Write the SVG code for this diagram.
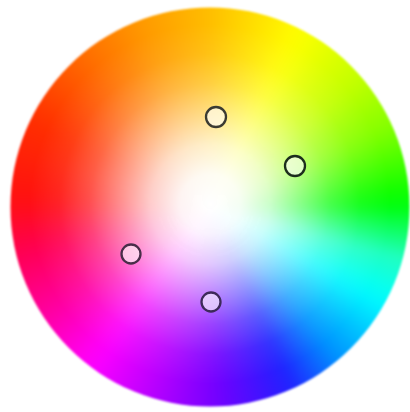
<svg xmlns="http://www.w3.org/2000/svg" xmlns:xlink="http://www.w3.org/1999/xlink" width="410" height="412" viewBox="0 0 410 412">
<defs>
<path id="w" d="M0,0 L211.76,-10 A212,212 0 0 1 211.76,10 Z"/>
<filter id="soft" x="-10%" y="-10%" width="120%" height="120%" color-interpolation-filters="sRGB"><feGaussianBlur stdDeviation="5"/></filter>
<filter id="edge" x="-5%" y="-5%" width="110%" height="110%" color-interpolation-filters="sRGB"><feGaussianBlur stdDeviation="0.9"/></filter>
<filter id="mk" x="-50%" y="-50%" width="200%" height="200%"><feGaussianBlur stdDeviation="0.5"/></filter>
<clipPath id="disc"><circle cx="210" cy="207" r="199.5"/></clipPath>
<radialGradient id="white" cx="210" cy="204" r="200" gradientUnits="userSpaceOnUse">
<stop offset="0" stop-color="#fff" stop-opacity="1"/>
<stop offset="0.15" stop-color="#fff" stop-opacity="0.95"/>
<stop offset="0.3" stop-color="#fff" stop-opacity="0.78"/>
<stop offset="0.45" stop-color="#fff" stop-opacity="0.52"/>
<stop offset="0.6" stop-color="#fff" stop-opacity="0.26"/>
<stop offset="0.75" stop-color="#fff" stop-opacity="0.08"/>
<stop offset="0.9" stop-color="#fff" stop-opacity="0"/>
</radialGradient>
<linearGradient id="b" gradientUnits="userSpaceOnUse" x1="0" y1="-8" x2="0" y2="8"/>
<linearGradient id="g0" href="#b"><stop stop-color="#00ff10"/><stop offset="1" stop-color="#0bff4b"/></linearGradient>
<linearGradient id="g1" href="#b"><stop stop-color="#0bff4b"/><stop offset="1" stop-color="#15ff85"/></linearGradient>
<linearGradient id="g2" href="#b"><stop stop-color="#15ff85"/><stop offset="1" stop-color="#20ffc0"/></linearGradient>
<linearGradient id="g3" href="#b"><stop stop-color="#20ffc0"/><stop offset="1" stop-color="#14ffd8"/></linearGradient>
<linearGradient id="g4" href="#b"><stop stop-color="#14ffd8"/><stop offset="1" stop-color="#07fff0"/></linearGradient>
<linearGradient id="g5" href="#b"><stop stop-color="#07fff0"/><stop offset="1" stop-color="#00f5ff"/></linearGradient>
<linearGradient id="g6" href="#b"><stop stop-color="#00f5ff"/><stop offset="1" stop-color="#00dcff"/></linearGradient>
<linearGradient id="g7" href="#b"><stop stop-color="#00dcff"/><stop offset="1" stop-color="#00c2ff"/></linearGradient>
<linearGradient id="g8" href="#b"><stop stop-color="#00c2ff"/><stop offset="1" stop-color="#00a9ff"/></linearGradient>
<linearGradient id="g9" href="#b"><stop stop-color="#00a9ff"/><stop offset="1" stop-color="#0090ff"/></linearGradient>
<linearGradient id="g10" href="#b"><stop stop-color="#0090ff"/><stop offset="1" stop-color="#0a6dff"/></linearGradient>
<linearGradient id="g11" href="#b"><stop stop-color="#0a6dff"/><stop offset="1" stop-color="#144aff"/></linearGradient>
<linearGradient id="g12" href="#b"><stop stop-color="#144aff"/><stop offset="1" stop-color="#1e27ff"/></linearGradient>
<linearGradient id="g13" href="#b"><stop stop-color="#1e27ff"/><stop offset="1" stop-color="#2f1aff"/></linearGradient>
<linearGradient id="g14" href="#b"><stop stop-color="#2f1aff"/><stop offset="1" stop-color="#4212ff"/></linearGradient>
<linearGradient id="g15" href="#b"><stop stop-color="#4212ff"/><stop offset="1" stop-color="#550bff"/></linearGradient>
<linearGradient id="g16" href="#b"><stop stop-color="#550bff"/><stop offset="1" stop-color="#6803ff"/></linearGradient>
<linearGradient id="g17" href="#b"><stop stop-color="#6803ff"/><stop offset="1" stop-color="#7b00ff"/></linearGradient>
<linearGradient id="g18" href="#b"><stop stop-color="#7b00ff"/><stop offset="1" stop-color="#8c00ff"/></linearGradient>
<linearGradient id="g19" href="#b"><stop stop-color="#8c00ff"/><stop offset="1" stop-color="#9e00ff"/></linearGradient>
<linearGradient id="g20" href="#b"><stop stop-color="#9e00ff"/><stop offset="1" stop-color="#b000ff"/></linearGradient>
<linearGradient id="g21" href="#b"><stop stop-color="#b000ff"/><stop offset="1" stop-color="#c200ff"/></linearGradient>
<linearGradient id="g22" href="#b"><stop stop-color="#c200ff"/><stop offset="1" stop-color="#d400ff"/></linearGradient>
<linearGradient id="g23" href="#b"><stop stop-color="#d400ff"/><stop offset="1" stop-color="#e600ff"/></linearGradient>
<linearGradient id="g24" href="#b"><stop stop-color="#e600ff"/><stop offset="1" stop-color="#f800ff"/></linearGradient>
<linearGradient id="g25" href="#b"><stop stop-color="#f800ff"/><stop offset="1" stop-color="#ff00f1"/></linearGradient>
<linearGradient id="g26" href="#b"><stop stop-color="#ff00f1"/><stop offset="1" stop-color="#ff00d9"/></linearGradient>
<linearGradient id="g27" href="#b"><stop stop-color="#ff00d9"/><stop offset="1" stop-color="#ff00c1"/></linearGradient>
<linearGradient id="g28" href="#b"><stop stop-color="#ff00c1"/><stop offset="1" stop-color="#ff00a9"/></linearGradient>
<linearGradient id="g29" href="#b"><stop stop-color="#ff00a9"/><stop offset="1" stop-color="#ff0094"/></linearGradient>
<linearGradient id="g30" href="#b"><stop stop-color="#ff0094"/><stop offset="1" stop-color="#ff0080"/></linearGradient>
<linearGradient id="g31" href="#b"><stop stop-color="#ff0080"/><stop offset="1" stop-color="#ff006c"/></linearGradient>
<linearGradient id="g32" href="#b"><stop stop-color="#ff006c"/><stop offset="1" stop-color="#ff0058"/></linearGradient>
<linearGradient id="g33" href="#b"><stop stop-color="#ff0058"/><stop offset="1" stop-color="#ff0343"/></linearGradient>
<linearGradient id="g34" href="#b"><stop stop-color="#ff0343"/><stop offset="1" stop-color="#ff092e"/></linearGradient>
<linearGradient id="g35" href="#b"><stop stop-color="#ff092e"/><stop offset="1" stop-color="#ff0e19"/></linearGradient>
<linearGradient id="g36" href="#b"><stop stop-color="#ff0e19"/><stop offset="1" stop-color="#ff140e"/></linearGradient>
<linearGradient id="g37" href="#b"><stop stop-color="#ff140e"/><stop offset="1" stop-color="#ff1a0b"/></linearGradient>
<linearGradient id="g38" href="#b"><stop stop-color="#ff1a0b"/><stop offset="1" stop-color="#ff2108"/></linearGradient>
<linearGradient id="g39" href="#b"><stop stop-color="#ff2108"/><stop offset="1" stop-color="#ff2704"/></linearGradient>
<linearGradient id="g40" href="#b"><stop stop-color="#ff2704"/><stop offset="1" stop-color="#ff2d01"/></linearGradient>
<linearGradient id="g41" href="#b"><stop stop-color="#ff2d01"/><stop offset="1" stop-color="#ff3800"/></linearGradient>
<linearGradient id="g42" href="#b"><stop stop-color="#ff3800"/><stop offset="1" stop-color="#ff4500"/></linearGradient>
<linearGradient id="g43" href="#b"><stop stop-color="#ff4500"/><stop offset="1" stop-color="#ff5200"/></linearGradient>
<linearGradient id="g44" href="#b"><stop stop-color="#ff5200"/><stop offset="1" stop-color="#ff5f00"/></linearGradient>
<linearGradient id="g45" href="#b"><stop stop-color="#ff5f00"/><stop offset="1" stop-color="#ff6c00"/></linearGradient>
<linearGradient id="g46" href="#b"><stop stop-color="#ff6c00"/><stop offset="1" stop-color="#ff7800"/></linearGradient>
<linearGradient id="g47" href="#b"><stop stop-color="#ff7800"/><stop offset="1" stop-color="#ff8300"/></linearGradient>
<linearGradient id="g48" href="#b"><stop stop-color="#ff8300"/><stop offset="1" stop-color="#ff8f00"/></linearGradient>
<linearGradient id="g49" href="#b"><stop stop-color="#ff8f00"/><stop offset="1" stop-color="#ff9a00"/></linearGradient>
<linearGradient id="g50" href="#b"><stop stop-color="#ff9a00"/><stop offset="1" stop-color="#ffa300"/></linearGradient>
<linearGradient id="g51" href="#b"><stop stop-color="#ffa300"/><stop offset="1" stop-color="#ffac00"/></linearGradient>
<linearGradient id="g52" href="#b"><stop stop-color="#ffac00"/><stop offset="1" stop-color="#ffb500"/></linearGradient>
<linearGradient id="g53" href="#b"><stop stop-color="#ffb500"/><stop offset="1" stop-color="#ffbe00"/></linearGradient>
<linearGradient id="g54" href="#b"><stop stop-color="#ffbe00"/><stop offset="1" stop-color="#ffca00"/></linearGradient>
<linearGradient id="g55" href="#b"><stop stop-color="#ffca00"/><stop offset="1" stop-color="#ffd600"/></linearGradient>
<linearGradient id="g56" href="#b"><stop stop-color="#ffd600"/><stop offset="1" stop-color="#ffe200"/></linearGradient>
<linearGradient id="g57" href="#b"><stop stop-color="#ffe200"/><stop offset="1" stop-color="#ffee00"/></linearGradient>
<linearGradient id="g58" href="#b"><stop stop-color="#ffee00"/><stop offset="1" stop-color="#fffa00"/></linearGradient>
<linearGradient id="g59" href="#b"><stop stop-color="#fffa00"/><stop offset="1" stop-color="#f7ff00"/></linearGradient>
<linearGradient id="g60" href="#b"><stop stop-color="#f7ff00"/><stop offset="1" stop-color="#e9ff00"/></linearGradient>
<linearGradient id="g61" href="#b"><stop stop-color="#e9ff00"/><stop offset="1" stop-color="#dbff00"/></linearGradient>
<linearGradient id="g62" href="#b"><stop stop-color="#dbff00"/><stop offset="1" stop-color="#ceff00"/></linearGradient>
<linearGradient id="g63" href="#b"><stop stop-color="#ceff00"/><stop offset="1" stop-color="#c0ff00"/></linearGradient>
<linearGradient id="g64" href="#b"><stop stop-color="#c0ff00"/><stop offset="1" stop-color="#adff00"/></linearGradient>
<linearGradient id="g65" href="#b"><stop stop-color="#adff00"/><stop offset="1" stop-color="#9aff00"/></linearGradient>
<linearGradient id="g66" href="#b"><stop stop-color="#9aff00"/><stop offset="1" stop-color="#88ff00"/></linearGradient>
<linearGradient id="g67" href="#b"><stop stop-color="#88ff00"/><stop offset="1" stop-color="#6eff00"/></linearGradient>
<linearGradient id="g68" href="#b"><stop stop-color="#6eff00"/><stop offset="1" stop-color="#4fff00"/></linearGradient>
<linearGradient id="g69" href="#b"><stop stop-color="#4fff00"/><stop offset="1" stop-color="#31ff00"/></linearGradient>
<linearGradient id="g70" href="#b"><stop stop-color="#31ff00"/><stop offset="1" stop-color="#12ff00"/></linearGradient>
<linearGradient id="g71" href="#b"><stop stop-color="#12ff00"/><stop offset="1" stop-color="#00ff10"/></linearGradient>
</defs>
<style>
.m { fill: #ffffff; fill-opacity: 0.6; stroke-width: 2.3; filter: url(#mk); }
</style>
<rect width="410" height="412" fill="#ffffff"/>
<g id="wheel" filter="url(#edge)">
<g clip-path="url(#disc)">
<g filter="url(#soft)">
<g transform="translate(210 207)">
<use href="#w" transform="rotate(2.5)" fill="url(#g0)"/>
<use href="#w" transform="rotate(7.5)" fill="url(#g1)"/>
<use href="#w" transform="rotate(12.5)" fill="url(#g2)"/>
<use href="#w" transform="rotate(17.5)" fill="url(#g3)"/>
<use href="#w" transform="rotate(22.5)" fill="url(#g4)"/>
<use href="#w" transform="rotate(27.5)" fill="url(#g5)"/>
<use href="#w" transform="rotate(32.5)" fill="url(#g6)"/>
<use href="#w" transform="rotate(37.5)" fill="url(#g7)"/>
<use href="#w" transform="rotate(42.5)" fill="url(#g8)"/>
<use href="#w" transform="rotate(47.5)" fill="url(#g9)"/>
<use href="#w" transform="rotate(52.5)" fill="url(#g10)"/>
<use href="#w" transform="rotate(57.5)" fill="url(#g11)"/>
<use href="#w" transform="rotate(62.5)" fill="url(#g12)"/>
<use href="#w" transform="rotate(67.5)" fill="url(#g13)"/>
<use href="#w" transform="rotate(72.5)" fill="url(#g14)"/>
<use href="#w" transform="rotate(77.5)" fill="url(#g15)"/>
<use href="#w" transform="rotate(82.5)" fill="url(#g16)"/>
<use href="#w" transform="rotate(87.5)" fill="url(#g17)"/>
<use href="#w" transform="rotate(92.5)" fill="url(#g18)"/>
<use href="#w" transform="rotate(97.5)" fill="url(#g19)"/>
<use href="#w" transform="rotate(102.5)" fill="url(#g20)"/>
<use href="#w" transform="rotate(107.5)" fill="url(#g21)"/>
<use href="#w" transform="rotate(112.5)" fill="url(#g22)"/>
<use href="#w" transform="rotate(117.5)" fill="url(#g23)"/>
<use href="#w" transform="rotate(122.5)" fill="url(#g24)"/>
<use href="#w" transform="rotate(127.5)" fill="url(#g25)"/>
<use href="#w" transform="rotate(132.5)" fill="url(#g26)"/>
<use href="#w" transform="rotate(137.5)" fill="url(#g27)"/>
<use href="#w" transform="rotate(142.5)" fill="url(#g28)"/>
<use href="#w" transform="rotate(147.5)" fill="url(#g29)"/>
<use href="#w" transform="rotate(152.5)" fill="url(#g30)"/>
<use href="#w" transform="rotate(157.5)" fill="url(#g31)"/>
<use href="#w" transform="rotate(162.5)" fill="url(#g32)"/>
<use href="#w" transform="rotate(167.5)" fill="url(#g33)"/>
<use href="#w" transform="rotate(172.5)" fill="url(#g34)"/>
<use href="#w" transform="rotate(177.5)" fill="url(#g35)"/>
<use href="#w" transform="rotate(182.5)" fill="url(#g36)"/>
<use href="#w" transform="rotate(187.5)" fill="url(#g37)"/>
<use href="#w" transform="rotate(192.5)" fill="url(#g38)"/>
<use href="#w" transform="rotate(197.5)" fill="url(#g39)"/>
<use href="#w" transform="rotate(202.5)" fill="url(#g40)"/>
<use href="#w" transform="rotate(207.5)" fill="url(#g41)"/>
<use href="#w" transform="rotate(212.5)" fill="url(#g42)"/>
<use href="#w" transform="rotate(217.5)" fill="url(#g43)"/>
<use href="#w" transform="rotate(222.5)" fill="url(#g44)"/>
<use href="#w" transform="rotate(227.5)" fill="url(#g45)"/>
<use href="#w" transform="rotate(232.5)" fill="url(#g46)"/>
<use href="#w" transform="rotate(237.5)" fill="url(#g47)"/>
<use href="#w" transform="rotate(242.5)" fill="url(#g48)"/>
<use href="#w" transform="rotate(247.5)" fill="url(#g49)"/>
<use href="#w" transform="rotate(252.5)" fill="url(#g50)"/>
<use href="#w" transform="rotate(257.5)" fill="url(#g51)"/>
<use href="#w" transform="rotate(262.5)" fill="url(#g52)"/>
<use href="#w" transform="rotate(267.5)" fill="url(#g53)"/>
<use href="#w" transform="rotate(272.5)" fill="url(#g54)"/>
<use href="#w" transform="rotate(277.5)" fill="url(#g55)"/>
<use href="#w" transform="rotate(282.5)" fill="url(#g56)"/>
<use href="#w" transform="rotate(287.5)" fill="url(#g57)"/>
<use href="#w" transform="rotate(292.5)" fill="url(#g58)"/>
<use href="#w" transform="rotate(297.5)" fill="url(#g59)"/>
<use href="#w" transform="rotate(302.5)" fill="url(#g60)"/>
<use href="#w" transform="rotate(307.5)" fill="url(#g61)"/>
<use href="#w" transform="rotate(312.5)" fill="url(#g62)"/>
<use href="#w" transform="rotate(317.5)" fill="url(#g63)"/>
<use href="#w" transform="rotate(322.5)" fill="url(#g64)"/>
<use href="#w" transform="rotate(327.5)" fill="url(#g65)"/>
<use href="#w" transform="rotate(332.5)" fill="url(#g66)"/>
<use href="#w" transform="rotate(337.5)" fill="url(#g67)"/>
<use href="#w" transform="rotate(342.5)" fill="url(#g68)"/>
<use href="#w" transform="rotate(347.5)" fill="url(#g69)"/>
<use href="#w" transform="rotate(352.5)" fill="url(#g70)"/>
<use href="#w" transform="rotate(357.5)" fill="url(#g71)"/>
</g>
</g>
<circle cx="210" cy="207" r="200" fill="url(#white)"/>
</g>
</g>
<g id="marker-1"><circle class="m" cx="216" cy="117" r="10" stroke="#3b3b33"/></g>
<g id="marker-2"><circle class="m" cx="295" cy="166" r="10" stroke="#1e2e1e" stroke-width="3"/></g>
<g id="marker-3"><circle class="m" cx="131" cy="254" r="9.5" stroke="#4a2d4a"/></g>
<g id="marker-4"><circle class="m" cx="211" cy="302" r="9.5" stroke="#3d2a5a"/></g>
</svg>
